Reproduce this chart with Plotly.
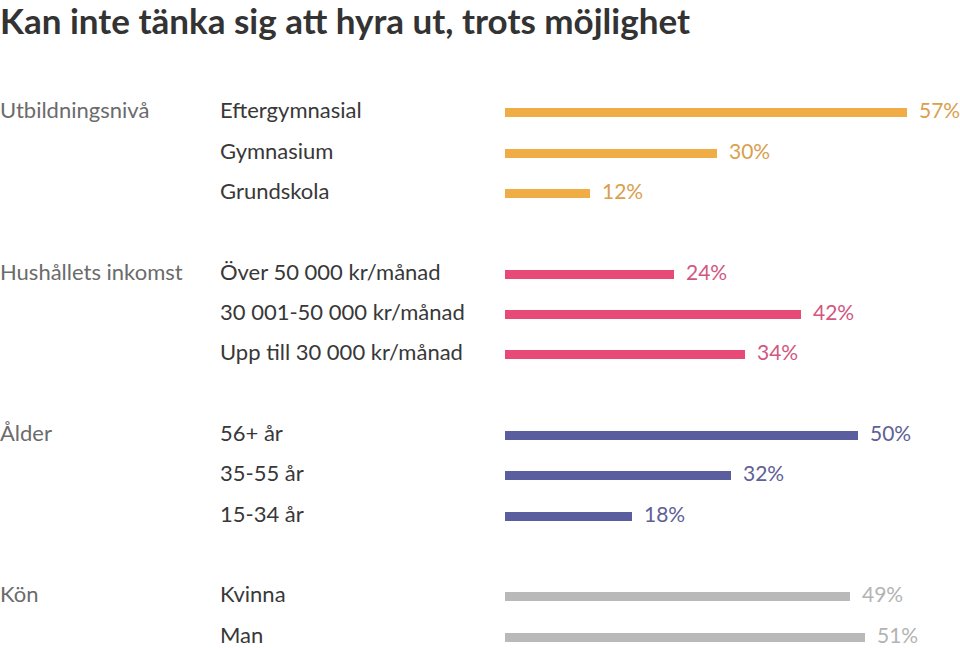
import plotly.graph_objects as go

title = "Kan inte tänka sig att hyra ut, trots möjlighet"

group_names = ["Utbildningsnivå", "Hushållets inkomst", "Ålder", "Kön"]
edu_labels = ["Eftergymnasial", "Gymnasium", "Grundskola"]
edu_values = [57, 30, 12]
inc_labels = ["Över 50 000 kr/månad", "30 001-50 000 kr/månad", "Upp till 30 000 kr/månad"]
inc_values = [24, 42, 34]
age_labels = ["56+ år", "35-55 år", "15-34 år"]
age_values = [50, 32, 18]
sex_labels = ["Kvinna", "Man"]
sex_values = [49, 51]

bar_colors = ["#F0AC45", "#E84A78", "#5A5E9F", "#B9B9B9"]
text_colors = ["#D9A04E", "#D2577F", "#5E6196", "#B3B3B3"]

groups = [
    (group_names[0], edu_labels, edu_values),
    (group_names[1], inc_labels, inc_values),
    (group_names[2], age_labels, age_values),
    (group_names[3], sex_labels, sex_values),
]

W, H = 960, 648
row_px = 40.35
first_row_px = 112.7
bar_left_px = 505
px_per_unit = 7.05

fig = go.Figure()
annotations = []
row = 0
for gi, (gname, labels, values) in enumerate(groups):
    ys = list(range(row, row + len(labels)))
    fig.add_trace(go.Bar(
        x=values, y=ys, orientation="h",
        marker=dict(color=bar_colors[gi], line=dict(width=0)),
        width=9 / row_px, hoverinfo="skip", showlegend=False,
    ))
    annotations.append(dict(
        xref="paper", yref="y", x=0, y=ys[0], xanchor="left", yanchor="middle",
        text=gname, showarrow=False, xshift=-2, yshift=3,
        font=dict(family="Lato", size=22, color="#6B6B6B"),
    ))
    for lab, val, y in zip(labels, values, ys):
        annotations.append(dict(
            xref="paper", yref="y", x=220 / W, y=y, xanchor="left", yanchor="middle",
            text=lab, showarrow=False, xshift=-2, yshift=3,
            font=dict(family="Lato", size=22, color="#383838"),
        ))
        annotations.append(dict(
            xref="x", yref="y", x=val, y=y, xanchor="left", yanchor="middle",
            text=f"{val}%", showarrow=False, xshift=10, yshift=3,
            font=dict(family="Lato", size=21, color=text_colors[gi]),
        ))
    row += len(labels) + 1

annotations.append(dict(
    xref="paper", yref="paper", x=0, y=1, xanchor="left", yanchor="top",
    text=f"<b>{title}</b>", showarrow=False, xshift=-2, yshift=3,
    font=dict(family="Lato", size=35, color="#333333"),
))

y_top = -first_row_px / row_px
y_bottom = y_top + H / row_px
x_max = (W - bar_left_px) / px_per_unit

fig.update_layout(
    width=W, height=H,
    margin=dict(l=0, r=0, t=0, b=0),
    paper_bgcolor="white", plot_bgcolor="white",
    xaxis=dict(domain=[bar_left_px / W, 1], range=[0, x_max], visible=False, fixedrange=True),
    yaxis=dict(range=[y_bottom, y_top], visible=False, fixedrange=True),
    annotations=annotations,
    bargap=0,
)

fig.write_html("out.html")
